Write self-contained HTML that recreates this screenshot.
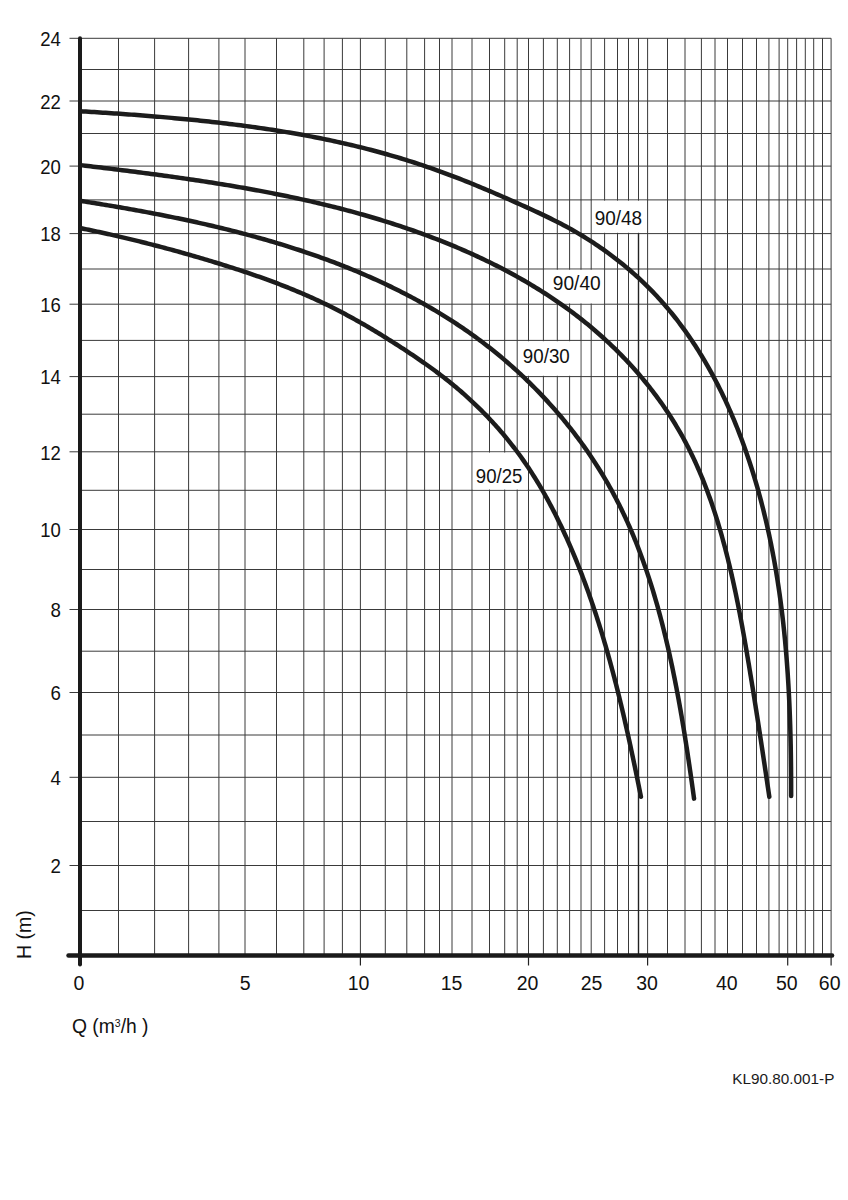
<!DOCTYPE html>
<html><head><meta charset="utf-8"><title>KL90.80.001-P</title><style>html,body{margin:0;padding:0;background:#fff;width:848px;height:1200px;overflow:hidden}svg{display:block}</style></head><body>
<svg width="848" height="1200" viewBox="0 0 848 1200">
<rect width="848" height="1200" fill="#fff"/>
<g stroke="#3a3a3a" stroke-width="1" fill="none"><line x1="118.5" y1="38.3" x2="118.5" y2="955.3"/><line x1="154.6" y1="38.3" x2="154.6" y2="955.3"/><line x1="188.6" y1="38.3" x2="188.6" y2="955.3"/><line x1="218.9" y1="38.3" x2="218.9" y2="955.3"/><line x1="245" y1="38.3" x2="245" y2="955.3"/><line x1="276.5" y1="38.3" x2="276.5" y2="955.3"/><line x1="303.8" y1="38.3" x2="303.8" y2="955.3"/><line x1="324.1" y1="38.3" x2="324.1" y2="955.3"/><line x1="342.4" y1="38.3" x2="342.4" y2="955.3"/><line x1="360.4" y1="38.3" x2="360.4" y2="955.3"/><line x1="385.3" y1="38.3" x2="385.3" y2="955.3"/><line x1="406.8" y1="38.3" x2="406.8" y2="955.3"/><line x1="424.6" y1="38.3" x2="424.6" y2="955.3"/><line x1="439.5" y1="38.3" x2="439.5" y2="955.3"/><line x1="452.0" y1="38.3" x2="452.0" y2="955.3"/><line x1="472.0" y1="38.3" x2="472.0" y2="955.3"/><line x1="489.5" y1="38.3" x2="489.5" y2="955.3"/><line x1="504.7" y1="38.3" x2="504.7" y2="955.3"/><line x1="517.2" y1="38.3" x2="517.2" y2="955.3"/><line x1="528.5" y1="38.3" x2="528.5" y2="955.3"/><line x1="543.4" y1="38.3" x2="543.4" y2="955.3"/><line x1="557.3" y1="38.3" x2="557.3" y2="955.3"/><line x1="569.6" y1="38.3" x2="569.6" y2="955.3"/><line x1="581.0" y1="38.3" x2="581.0" y2="955.3"/><line x1="591.2" y1="38.3" x2="591.2" y2="955.3"/><line x1="604.6" y1="38.3" x2="604.6" y2="955.3"/><line x1="617.5" y1="38.3" x2="617.5" y2="955.3"/><line x1="628.5" y1="38.3" x2="628.5" y2="955.3"/><line x1="638.5" y1="38.3" x2="638.5" y2="955.3"/><line x1="647.6" y1="38.3" x2="647.6" y2="955.3"/><line x1="667.5" y1="38.3" x2="667.5" y2="955.3"/><line x1="685.0" y1="38.3" x2="685.0" y2="955.3"/><line x1="701.4" y1="38.3" x2="701.4" y2="955.3"/><line x1="715.0" y1="38.3" x2="715.0" y2="955.3"/><line x1="727.5" y1="38.3" x2="727.5" y2="955.3"/><line x1="742.5" y1="38.3" x2="742.5" y2="955.3"/><line x1="756.5" y1="38.3" x2="756.5" y2="955.3"/><line x1="768.9" y1="38.3" x2="768.9" y2="955.3"/><line x1="779.1" y1="38.3" x2="779.1" y2="955.3"/><line x1="787.7" y1="38.3" x2="787.7" y2="955.3"/><line x1="796.6" y1="38.3" x2="796.6" y2="955.3"/><line x1="805.3" y1="38.3" x2="805.3" y2="955.3"/><line x1="813.7" y1="38.3" x2="813.7" y2="955.3"/><line x1="822.5" y1="38.3" x2="822.5" y2="955.3"/><line x1="831.1" y1="38.3" x2="831.1" y2="955.3"/><line x1="69.5" y1="38.3" x2="831.1" y2="38.3"/><line x1="80.0" y1="69.5" x2="831.1" y2="69.5"/><line x1="69.5" y1="101.0" x2="831.1" y2="101.0"/><line x1="80.0" y1="133.5" x2="831.1" y2="133.5"/><line x1="69.5" y1="166.1" x2="831.1" y2="166.1"/><line x1="80.0" y1="199.9" x2="831.1" y2="199.9"/><line x1="69.5" y1="233.6" x2="831.1" y2="233.6"/><line x1="80.0" y1="269.0" x2="831.1" y2="269.0"/><line x1="69.5" y1="304.2" x2="831.1" y2="304.2"/><line x1="80.0" y1="340.4" x2="831.1" y2="340.4"/><line x1="69.5" y1="376.6" x2="831.1" y2="376.6"/><line x1="80.0" y1="414.2" x2="831.1" y2="414.2"/><line x1="69.5" y1="451.8" x2="831.1" y2="451.8"/><line x1="80.0" y1="490.3" x2="831.1" y2="490.3"/><line x1="69.5" y1="529.5" x2="831.1" y2="529.5"/><line x1="80.0" y1="569.5" x2="831.1" y2="569.5"/><line x1="69.5" y1="609.5" x2="831.1" y2="609.5"/><line x1="80.0" y1="651.2" x2="831.1" y2="651.2"/><line x1="69.5" y1="692.5" x2="831.1" y2="692.5"/><line x1="80.0" y1="735.0" x2="831.1" y2="735.0"/><line x1="69.5" y1="777.3" x2="831.1" y2="777.3"/><line x1="80.0" y1="821.5" x2="831.1" y2="821.5"/><line x1="69.5" y1="865.5" x2="831.1" y2="865.5"/><line x1="80.0" y1="910.5" x2="831.1" y2="910.5"/></g>
<rect x="592.0" y="200.7" width="54.8" height="32.1" fill="#fff"/>
<rect x="544.2" y="269.8" width="59.6" height="33.6" fill="#fff"/>
<rect x="518.0" y="341.2" width="62.2" height="34.6" fill="#fff"/>
<rect x="472.8" y="452.6" width="54.9" height="36.9" fill="#fff"/>
<line x1="638.5" y1="233.6" x2="638.5" y2="955.3" stroke="#222" stroke-width="1.4"/>
<g stroke="#1a1a1a" fill="none" stroke-linecap="round"><line x1="80.0" y1="38.3" x2="80.0" y2="964.5" stroke-width="4"/><line x1="68.5" y1="955.5" x2="832.1" y2="955.5" stroke-width="4.4"/></g>
<g stroke="#222" stroke-width="1.2"><line x1="360.4" y1="955.3" x2="360.4" y2="965.5"/><line x1="528.5" y1="955.3" x2="528.5" y2="965.5"/><line x1="647.6" y1="955.3" x2="647.6" y2="965.5"/><line x1="787.7" y1="955.3" x2="787.7" y2="965.5"/><line x1="831.1" y1="955.3" x2="831.1" y2="965.5"/></g>
<defs><clipPath id="cp"><rect x="80" y="0" width="800" height="1200"/></clipPath></defs>
<g clip-path="url(#cp)" stroke="#1c1c1c" stroke-width="4.5" fill="none" stroke-linecap="round" stroke-linejoin="round">
<path d="M80.20,111.23 L83.02,111.40 L85.84,111.58 L88.67,111.75 L91.49,111.93 L94.32,112.11 L97.16,112.29 L99.99,112.47 L102.83,112.66 L105.67,112.84 L108.52,113.03 L111.37,113.22 L114.21,113.42 L117.07,113.61 L119.92,113.81 L122.77,114.01 L125.63,114.21 L128.49,114.42 L131.35,114.63 L134.22,114.84 L137.08,115.05 L139.95,115.27 L142.82,115.49 L145.69,115.71 L148.56,115.94 L151.43,116.17 L154.30,116.40 L157.18,116.64 L160.05,116.88 L162.93,117.13 L165.81,117.37 L168.69,117.62 L171.57,117.88 L174.45,118.14 L177.33,118.40 L180.21,118.67 L183.09,118.94 L185.97,119.22 L188.86,119.50 L191.74,119.78 L194.62,120.07 L197.51,120.36 L200.39,120.66 L203.27,120.96 L206.15,121.27 L209.04,121.58 L211.92,121.90 L214.80,122.22 L217.68,122.55 L220.56,122.88 L223.44,123.22 L226.32,123.56 L229.20,123.91 L232.08,124.26 L234.95,124.62 L237.83,124.98 L240.70,125.35 L243.58,125.73 L246.45,126.11 L249.32,126.50 L252.19,126.89 L255.06,127.29 L257.92,127.70 L260.79,128.11 L263.65,128.52 L266.51,128.95 L269.37,129.38 L272.22,129.82 L275.08,130.26 L277.93,130.71 L280.78,131.17 L283.63,131.63 L286.48,132.10 L289.32,132.58 L292.16,133.07 L295.00,133.56 L297.83,134.06 L300.67,134.56 L303.50,135.08 L306.32,135.60 L309.15,136.13 L311.97,136.66 L314.78,137.21 L317.60,137.76 L320.41,138.32 L323.22,138.89 L326.02,139.46 L328.82,140.04 L331.62,140.63 L334.41,141.23 L337.20,141.84 L339.99,142.46 L342.77,143.08 L345.55,143.71 L348.33,144.36 L351.10,145.01 L353.87,145.67 L356.64,146.33 L359.40,147.01 L362.16,147.69 L364.92,148.39 L367.67,149.09 L370.43,149.80 L373.18,150.53 L375.92,151.26 L378.66,152.00 L381.40,152.75 L384.14,153.51 L386.88,154.28 L389.61,155.06 L392.34,155.84 L395.06,156.64 L397.79,157.45 L400.51,158.27 L403.23,159.10 L405.94,159.94 L408.66,160.79 L411.37,161.65 L414.08,162.51 L416.79,163.39 L419.49,164.29 L422.20,165.19 L424.90,166.10 L427.60,167.02 L430.30,167.95 L433.00,168.90 L435.71,169.85 L438.41,170.82 L441.11,171.80 L443.81,172.79 L446.51,173.79 L449.22,174.80 L451.92,175.82 L454.63,176.86 L457.34,177.90 L460.04,178.96 L462.75,180.02 L465.46,181.10 L468.17,182.18 L470.88,183.28 L473.59,184.38 L476.29,185.49 L479.00,186.61 L481.71,187.73 L484.41,188.87 L487.11,190.01 L489.81,191.15 L492.51,192.30 L495.21,193.46 L497.90,194.62 L500.59,195.78 L503.27,196.95 L505.96,198.12 L508.64,199.30 L511.31,200.47 L513.98,201.65 L516.65,202.83 L519.31,204.02 L521.96,205.20 L524.61,206.39 L527.26,207.58 L529.90,208.78 L532.53,209.98 L535.16,211.18 L537.78,212.40 L540.39,213.62 L543.00,214.85 L545.60,216.10 L548.19,217.35 L550.78,218.61 L553.35,219.89 L555.92,221.18 L558.48,222.49 L561.03,223.81 L563.57,225.15 L566.10,226.51 L568.62,227.88 L571.13,229.28 L573.63,230.69 L576.13,232.12 L578.61,233.58 L581.08,235.05 L583.53,236.54 L585.98,238.05 L588.42,239.58 L590.84,241.13 L593.25,242.70 L595.65,244.29 L598.04,245.90 L600.41,247.52 L602.77,249.17 L605.12,250.83 L607.45,252.51 L609.77,254.21 L612.07,255.93 L614.36,257.67 L616.64,259.42 L618.90,261.19 L621.15,262.98 L623.38,264.79 L625.59,266.62 L627.79,268.46 L629.97,270.32 L632.14,272.20 L634.28,274.10 L636.42,276.01 L638.53,277.95 L640.63,279.89 L642.71,281.86 L644.77,283.84 L646.81,285.84 L648.83,287.86 L650.84,289.89 L652.83,291.94 L654.79,294.00 L656.74,296.08 L658.68,298.18 L660.59,300.29 L662.49,302.42 L664.36,304.56 L666.22,306.72 L668.06,308.90 L669.89,311.09 L671.69,313.29 L673.48,315.51 L675.25,317.74 L677.00,319.99 L678.74,322.25 L680.46,324.52 L682.16,326.81 L683.84,329.11 L685.51,331.43 L687.16,333.76 L688.79,336.10 L690.41,338.45 L692.01,340.82 L693.59,343.19 L695.15,345.59 L696.70,347.99 L698.24,350.40 L699.75,352.83 L701.26,355.27 L702.74,357.72 L704.21,360.18 L705.66,362.65 L707.10,365.13 L708.52,367.62 L709.92,370.13 L711.31,372.64 L712.69,375.16 L714.04,377.70 L715.39,380.24 L716.72,382.79 L718.03,385.36 L719.33,387.93 L720.61,390.51 L721.88,393.10 L723.13,395.69 L724.37,398.30 L725.59,400.92 L726.80,403.54 L727.99,406.17 L729.17,408.81 L730.34,411.46 L731.49,414.11 L732.62,416.77 L733.75,419.44 L734.85,422.11 L735.95,424.80 L737.03,427.48 L738.10,430.18 L739.15,432.88 L740.19,435.59 L741.21,438.30 L742.23,441.02 L743.23,443.74 L744.21,446.47 L745.18,449.21 L746.14,451.94 L747.09,454.69 L748.02,457.44 L748.95,460.19 L749.85,462.95 L750.75,465.71 L751.63,468.48 L752.50,471.24 L753.36,474.02 L754.21,476.79 L755.04,479.57 L755.86,482.36 L756.67,485.14 L757.47,487.93 L758.25,490.72 L759.02,493.51 L759.79,496.31 L760.54,499.10 L761.27,501.90 L762.00,504.70 L762.72,507.50 L763.42,510.31 L764.11,513.11 L764.80,515.92 L765.47,518.72 L766.13,521.53 L766.77,524.34 L767.41,527.15 L768.04,529.96 L768.66,532.77 L769.26,535.58 L769.86,538.39 L770.44,541.21 L771.02,544.02 L771.58,546.84 L772.14,549.66 L772.68,552.48 L773.21,555.30 L773.74,558.12 L774.25,560.94 L774.76,563.76 L775.25,566.59 L775.74,569.41 L776.22,572.24 L776.68,575.07 L777.14,577.90 L777.59,580.73 L778.03,583.56 L778.46,586.39 L778.88,589.22 L779.29,592.05 L779.70,594.89 L780.09,597.73 L780.48,600.56 L780.85,603.40 L781.22,606.24 L781.58,609.08 L781.94,611.92 L782.28,614.76 L782.62,617.61 L782.95,620.45 L783.27,623.30 L783.58,626.14 L783.88,628.99 L784.18,631.84 L784.47,634.69 L784.75,637.54 L785.03,640.39 L785.29,643.24 L785.55,646.10 L785.80,648.95 L786.05,651.81 L786.29,654.67 L786.52,657.52 L786.74,660.38 L786.96,663.24 L787.17,666.11 L787.38,668.97 L787.58,671.83 L787.77,674.70 L787.95,677.56 L788.13,680.43 L788.31,683.30 L788.47,686.16 L788.63,689.03 L788.79,691.90 L788.94,694.78 L789.08,697.65 L789.22,700.52 L789.35,703.40 L789.48,706.27 L789.60,709.15 L789.71,712.03 L789.82,714.91 L789.93,717.79 L790.03,720.67 L790.13,723.55 L790.22,726.44 L790.30,729.32 L790.38,732.21 L790.46,735.09 L790.53,737.98 L790.60,740.87 L790.66,743.76 L790.72,746.65 L790.77,749.54 L790.82,752.44 L790.87,755.33 L790.91,758.22 L790.95,761.12 L790.98,764.02 L791.02,766.92 L791.04,769.82 L791.07,772.72 L791.09,775.62 L791.10,778.52 L791.12,781.42 L791.13,784.33 L791.13,787.23 L791.14,790.14 L791.14,793.05 L791.14,795.96"/>
<path d="M80.05,165.07 L82.67,165.38 L85.29,165.70 L87.92,166.01 L90.54,166.33 L93.17,166.65 L95.79,166.96 L98.42,167.28 L101.05,167.60 L103.68,167.92 L106.31,168.24 L108.93,168.56 L111.56,168.88 L114.19,169.21 L116.83,169.53 L119.46,169.86 L122.09,170.19 L124.72,170.52 L127.35,170.85 L129.99,171.18 L132.62,171.51 L135.25,171.85 L137.88,172.19 L140.52,172.53 L143.15,172.87 L145.79,173.21 L148.42,173.56 L151.05,173.90 L153.69,174.25 L156.32,174.60 L158.96,174.96 L161.59,175.31 L164.23,175.67 L166.86,176.03 L169.50,176.39 L172.13,176.76 L174.76,177.13 L177.40,177.50 L180.03,177.87 L182.67,178.25 L185.30,178.63 L187.93,179.01 L190.57,179.40 L193.20,179.78 L195.83,180.18 L198.46,180.57 L201.09,180.97 L203.72,181.37 L206.36,181.77 L208.99,182.18 L211.62,182.59 L214.24,183.01 L216.87,183.43 L219.50,183.85 L222.13,184.27 L224.76,184.70 L227.38,185.14 L230.01,185.57 L232.63,186.02 L235.26,186.46 L237.88,186.91 L240.50,187.36 L243.12,187.82 L245.74,188.28 L248.36,188.75 L250.98,189.22 L253.60,189.70 L256.22,190.18 L258.83,190.66 L261.45,191.15 L264.06,191.64 L266.68,192.14 L269.29,192.65 L271.90,193.16 L274.51,193.67 L277.12,194.19 L279.73,194.71 L282.33,195.24 L284.94,195.77 L287.54,196.31 L290.14,196.86 L292.75,197.41 L295.35,197.96 L297.94,198.52 L300.54,199.09 L303.14,199.66 L305.73,200.24 L308.32,200.82 L310.92,201.41 L313.51,202.01 L316.09,202.61 L318.68,203.22 L321.27,203.83 L323.85,204.45 L326.43,205.08 L329.01,205.71 L331.59,206.35 L334.17,206.99 L336.74,207.64 L339.31,208.30 L341.89,208.97 L344.45,209.64 L347.02,210.32 L349.59,211.00 L352.15,211.69 L354.71,212.39 L357.27,213.10 L359.83,213.81 L362.39,214.53 L364.94,215.25 L367.49,215.99 L370.04,216.73 L372.59,217.48 L375.13,218.23 L377.68,219.00 L380.22,219.77 L382.76,220.55 L385.29,221.33 L387.83,222.13 L390.36,222.93 L392.89,223.74 L395.42,224.55 L397.94,225.38 L400.46,226.21 L402.98,227.05 L405.50,227.90 L408.01,228.76 L410.53,229.63 L413.04,230.50 L415.54,231.38 L418.05,232.28 L420.55,233.18 L423.05,234.08 L425.55,235.00 L428.04,235.93 L430.53,236.86 L433.02,237.80 L435.50,238.76 L437.98,239.72 L440.46,240.69 L442.94,241.67 L445.41,242.65 L447.88,243.65 L450.34,244.66 L452.80,245.67 L455.26,246.70 L457.71,247.73 L460.16,248.78 L462.61,249.83 L465.05,250.90 L467.48,251.97 L469.91,253.05 L472.34,254.15 L474.76,255.25 L477.18,256.36 L479.59,257.48 L482.00,258.62 L484.41,259.76 L486.80,260.91 L489.19,262.08 L491.58,263.25 L493.96,264.43 L496.34,265.63 L498.71,266.83 L501.07,268.05 L503.43,269.27 L505.78,270.51 L508.13,271.76 L510.47,273.02 L512.80,274.29 L515.13,275.57 L517.45,276.86 L519.77,278.16 L522.07,279.47 L524.37,280.80 L526.67,282.14 L528.96,283.48 L531.24,284.84 L533.51,286.21 L535.77,287.59 L538.03,288.99 L540.28,290.39 L542.52,291.81 L544.76,293.24 L546.99,294.68 L549.20,296.13 L551.42,297.59 L553.62,299.07 L555.81,300.56 L558.00,302.06 L560.18,303.57 L562.35,305.09 L564.51,306.63 L566.66,308.18 L568.80,309.74 L570.94,311.31 L573.06,312.90 L575.18,314.50 L577.28,316.11 L579.38,317.74 L581.47,319.37 L583.55,321.03 L585.62,322.69 L587.68,324.36 L589.73,326.05 L591.76,327.76 L593.79,329.47 L595.81,331.20 L597.82,332.94 L599.82,334.70 L601.81,336.47 L603.78,338.25 L605.75,340.05 L607.71,341.86 L609.65,343.68 L611.58,345.52 L613.51,347.37 L615.42,349.23 L617.32,351.10 L619.20,352.99 L621.08,354.89 L622.94,356.81 L624.79,358.73 L626.63,360.67 L628.46,362.62 L630.27,364.58 L632.07,366.56 L633.86,368.55 L635.63,370.55 L637.39,372.56 L639.14,374.58 L640.87,376.61 L642.59,378.66 L644.29,380.71 L645.98,382.78 L647.66,384.86 L649.32,386.95 L650.96,389.05 L652.60,391.16 L654.21,393.28 L655.81,395.41 L657.40,397.55 L658.97,399.71 L660.52,401.87 L662.06,404.04 L663.58,406.22 L665.09,408.42 L666.58,410.62 L668.05,412.83 L669.50,415.05 L670.94,417.28 L672.36,419.52 L673.77,421.77 L675.16,424.03 L676.52,426.29 L677.88,428.57 L679.21,430.85 L680.53,433.15 L681.82,435.45 L683.10,437.76 L684.36,440.07 L685.60,442.40 L686.83,444.73 L688.04,447.08 L689.23,449.43 L690.40,451.78 L691.56,454.15 L692.70,456.52 L693.82,458.90 L694.93,461.29 L696.02,463.68 L697.10,466.08 L698.16,468.49 L699.21,470.90 L700.24,473.33 L701.25,475.75 L702.26,478.19 L703.24,480.63 L704.21,483.08 L705.17,485.53 L706.12,487.99 L707.05,490.45 L707.97,492.92 L708.87,495.40 L709.76,497.88 L710.64,500.37 L711.51,502.86 L712.36,505.36 L713.20,507.86 L714.04,510.37 L714.85,512.88 L715.66,515.40 L716.46,517.92 L717.24,520.45 L718.02,522.98 L718.78,525.52 L719.53,528.06 L720.27,530.60 L721.01,533.15 L721.73,535.70 L722.44,538.26 L723.15,540.81 L723.84,543.38 L724.53,545.94 L725.21,548.51 L725.88,551.09 L726.54,553.66 L727.19,556.24 L727.84,558.82 L728.47,561.41 L729.10,563.99 L729.72,566.58 L730.34,569.18 L730.94,571.77 L731.54,574.37 L732.13,576.97 L732.72,579.57 L733.30,582.18 L733.87,584.79 L734.44,587.40 L735.00,590.01 L735.55,592.62 L736.10,595.24 L736.64,597.86 L737.17,600.48 L737.70,603.10 L738.23,605.72 L738.75,608.34 L739.26,610.97 L739.77,613.60 L740.27,616.23 L740.77,618.86 L741.27,621.49 L741.76,624.12 L742.25,626.76 L742.73,629.39 L743.21,632.03 L743.68,634.66 L744.15,637.30 L744.62,639.94 L745.08,642.58 L745.54,645.22 L746.00,647.86 L746.45,650.50 L746.91,653.14 L747.35,655.78 L747.80,658.42 L748.24,661.06 L748.69,663.71 L749.13,666.35 L749.56,668.99 L750.00,671.63 L750.43,674.27 L750.87,676.91 L751.30,679.55 L751.73,682.19 L752.15,684.83 L752.58,687.47 L753.01,690.11 L753.43,692.75 L753.85,695.39 L754.27,698.02 L754.69,700.66 L755.11,703.29 L755.52,705.92 L755.94,708.56 L756.35,711.19 L756.76,713.82 L757.17,716.44 L757.58,719.07 L757.99,721.70 L758.40,724.32 L758.80,726.94 L759.21,729.56 L759.61,732.18 L760.01,734.80 L760.41,737.41 L760.81,740.02 L761.21,742.64 L761.61,745.24 L762.00,747.85 L762.40,750.45 L762.79,753.05 L763.18,755.65 L763.57,758.25 L763.96,760.84 L764.35,763.44 L764.74,766.02 L765.13,768.61 L765.51,771.19 L765.90,773.77 L766.28,776.35 L766.66,778.92 L767.05,781.49 L767.43,784.06 L767.81,786.62 L768.19,789.18 L768.57,791.74 L768.94,794.30 L769.32,796.85"/>
<path d="M80.62,200.91 L82.91,201.27 L85.20,201.63 L87.49,201.99 L89.79,202.36 L92.08,202.72 L94.38,203.09 L96.68,203.47 L98.99,203.84 L101.29,204.22 L103.60,204.60 L105.90,204.98 L108.21,205.36 L110.52,205.75 L112.83,206.14 L115.15,206.53 L117.46,206.93 L119.78,207.33 L122.09,207.73 L124.41,208.13 L126.73,208.54 L129.05,208.95 L131.37,209.36 L133.69,209.78 L136.02,210.20 L138.34,210.62 L140.67,211.04 L142.99,211.47 L145.32,211.91 L147.65,212.34 L149.97,212.78 L152.30,213.22 L154.63,213.67 L156.96,214.12 L159.29,214.57 L161.62,215.02 L163.95,215.48 L166.29,215.95 L168.62,216.42 L170.95,216.89 L173.28,217.36 L175.62,217.84 L177.95,218.32 L180.28,218.81 L182.61,219.30 L184.95,219.79 L187.28,220.29 L189.61,220.79 L191.94,221.30 L194.28,221.81 L196.61,222.32 L198.94,222.84 L201.27,223.37 L203.60,223.89 L205.93,224.43 L208.26,224.96 L210.59,225.50 L212.92,226.05 L215.25,226.60 L217.58,227.15 L219.91,227.71 L222.23,228.28 L224.56,228.84 L226.88,229.42 L229.21,230.00 L231.53,230.58 L233.85,231.17 L236.17,231.76 L238.49,232.36 L240.81,232.96 L243.13,233.57 L245.44,234.18 L247.76,234.80 L250.07,235.42 L252.38,236.05 L254.70,236.68 L257.01,237.32 L259.31,237.96 L261.62,238.61 L263.92,239.27 L266.23,239.93 L268.53,240.59 L270.83,241.26 L273.13,241.94 L275.42,242.62 L277.72,243.31 L280.01,244.00 L282.30,244.70 L284.59,245.41 L286.88,246.12 L289.16,246.84 L291.44,247.56 L293.72,248.29 L296.00,249.02 L298.27,249.76 L300.55,250.51 L302.82,251.26 L305.09,252.02 L307.35,252.79 L309.62,253.56 L311.88,254.34 L314.13,255.12 L316.39,255.91 L318.64,256.71 L320.89,257.51 L323.14,258.32 L325.38,259.14 L327.63,259.96 L329.86,260.79 L332.10,261.63 L334.33,262.47 L336.56,263.32 L338.79,264.18 L341.01,265.04 L343.23,265.91 L345.45,266.79 L347.66,267.67 L349.87,268.56 L352.08,269.46 L354.28,270.37 L356.48,271.28 L358.68,272.20 L360.87,273.12 L363.06,274.06 L365.25,275.00 L367.43,275.95 L369.60,276.90 L371.78,277.87 L373.95,278.84 L376.12,279.82 L378.28,280.80 L380.44,281.80 L382.59,282.80 L384.74,283.80 L386.89,284.82 L389.03,285.85 L391.17,286.88 L393.30,287.92 L395.43,288.96 L397.55,290.02 L399.67,291.08 L401.79,292.15 L403.90,293.23 L406.01,294.32 L408.11,295.42 L410.21,296.52 L412.30,297.63 L414.39,298.75 L416.47,299.88 L418.55,301.02 L420.62,302.16 L422.69,303.32 L424.75,304.48 L426.81,305.65 L428.86,306.83 L430.91,308.02 L432.96,309.21 L434.99,310.42 L437.03,311.63 L439.05,312.85 L441.08,314.08 L443.09,315.32 L445.10,316.57 L447.11,317.83 L449.11,319.10 L451.10,320.37 L453.09,321.66 L455.08,322.95 L457.05,324.25 L459.03,325.57 L460.99,326.89 L462.95,328.22 L464.91,329.56 L466.86,330.91 L468.80,332.27 L470.73,333.63 L472.66,335.01 L474.59,336.40 L476.51,337.79 L478.42,339.20 L480.32,340.62 L482.22,342.04 L484.11,343.48 L486.00,344.92 L487.88,346.38 L489.75,347.84 L491.62,349.31 L493.48,350.80 L495.33,352.29 L497.18,353.80 L499.02,355.31 L500.85,356.83 L502.68,358.36 L504.50,359.91 L506.31,361.46 L508.11,363.02 L509.91,364.59 L511.70,366.17 L513.48,367.75 L515.26,369.35 L517.03,370.96 L518.79,372.57 L520.54,374.20 L522.29,375.83 L524.02,377.47 L525.75,379.12 L527.47,380.78 L529.19,382.45 L530.89,384.13 L532.59,385.82 L534.28,387.51 L535.96,389.21 L537.63,390.92 L539.30,392.64 L540.95,394.37 L542.60,396.11 L544.24,397.85 L545.87,399.61 L547.49,401.37 L549.10,403.14 L550.71,404.91 L552.30,406.70 L553.89,408.49 L555.46,410.29 L557.03,412.10 L558.59,413.91 L560.14,415.74 L561.68,417.57 L563.21,419.41 L564.73,421.25 L566.24,423.11 L567.74,424.97 L569.24,426.84 L570.72,428.71 L572.19,430.60 L573.65,432.49 L575.11,434.39 L576.55,436.29 L577.98,438.20 L579.41,440.12 L580.82,442.04 L582.22,443.98 L583.61,445.92 L585.00,447.86 L586.37,449.81 L587.73,451.77 L589.08,453.74 L590.42,455.71 L591.75,457.69 L593.06,459.67 L594.37,461.67 L595.67,463.66 L596.95,465.67 L598.23,467.68 L599.49,469.69 L600.74,471.72 L601.98,473.74 L603.21,475.78 L604.43,477.82 L605.63,479.87 L606.83,481.92 L608.01,483.97 L609.18,486.04 L610.34,488.11 L611.49,490.18 L612.63,492.26 L613.75,494.35 L614.86,496.44 L615.97,498.53 L617.06,500.64 L618.13,502.74 L619.20,504.86 L620.26,506.97 L621.30,509.10 L622.33,511.22 L623.35,513.36 L624.37,515.49 L625.37,517.64 L626.36,519.78 L627.34,521.93 L628.31,524.09 L629.26,526.25 L630.21,528.42 L631.15,530.59 L632.08,532.76 L632.99,534.94 L633.90,537.13 L634.80,539.31 L635.69,541.51 L636.57,543.70 L637.44,545.90 L638.30,548.11 L639.15,550.32 L639.99,552.53 L640.82,554.75 L641.64,556.97 L642.45,559.19 L643.26,561.42 L644.05,563.65 L644.84,565.89 L645.62,568.13 L646.39,570.37 L647.15,572.62 L647.90,574.87 L648.65,577.12 L649.39,579.38 L650.11,581.64 L650.83,583.90 L651.55,586.17 L652.25,588.44 L652.95,590.71 L653.64,592.98 L654.32,595.26 L655.00,597.54 L655.66,599.83 L656.32,602.12 L656.98,604.41 L657.62,606.70 L658.26,608.99 L658.89,611.29 L659.52,613.59 L660.14,615.89 L660.75,618.20 L661.35,620.51 L661.95,622.82 L662.54,625.13 L663.13,627.44 L663.71,629.76 L664.29,632.08 L664.85,634.40 L665.42,636.72 L665.97,639.04 L666.52,641.37 L667.07,643.70 L667.61,646.03 L668.14,648.36 L668.67,650.69 L669.20,653.03 L669.72,655.36 L670.23,657.70 L670.74,660.04 L671.24,662.38 L671.74,664.72 L672.24,667.07 L672.73,669.41 L673.21,671.76 L673.69,674.10 L674.17,676.45 L674.64,678.80 L675.11,681.15 L675.57,683.50 L676.03,685.85 L676.48,688.20 L676.93,690.56 L677.37,692.91 L677.81,695.26 L678.25,697.62 L678.68,699.97 L679.11,702.33 L679.54,704.69 L679.96,707.04 L680.38,709.40 L680.79,711.76 L681.20,714.11 L681.61,716.47 L682.01,718.83 L682.41,721.18 L682.81,723.54 L683.20,725.90 L683.59,728.25 L683.98,730.61 L684.36,732.97 L684.74,735.32 L685.12,737.68 L685.49,740.03 L685.86,742.39 L686.23,744.74 L686.60,747.10 L686.96,749.45 L687.32,751.80 L687.68,754.15 L688.03,756.50 L688.38,758.85 L688.73,761.20 L689.08,763.55 L689.43,765.90 L689.77,768.24 L690.11,770.59 L690.45,772.93 L690.79,775.27 L691.12,777.61 L691.45,779.95 L691.78,782.29 L692.11,784.63 L692.44,786.96 L692.77,789.30 L693.09,791.63 L693.41,793.96 L693.73,796.29 L694.05,798.61"/>
<path d="M80.23,228.07 L82.34,228.50 L84.45,228.94 L86.56,229.37 L88.67,229.81 L90.78,230.25 L92.90,230.70 L95.01,231.15 L97.12,231.61 L99.24,232.06 L101.35,232.53 L103.47,232.99 L105.59,233.46 L107.70,233.93 L109.82,234.41 L111.94,234.89 L114.05,235.37 L116.17,235.86 L118.29,236.35 L120.41,236.84 L122.52,237.34 L124.64,237.84 L126.76,238.34 L128.88,238.85 L131.00,239.36 L133.12,239.87 L135.24,240.39 L137.35,240.91 L139.47,241.44 L141.59,241.96 L143.71,242.49 L145.83,243.03 L147.95,243.57 L150.06,244.11 L152.18,244.65 L154.30,245.20 L156.41,245.75 L158.53,246.30 L160.65,246.86 L162.76,247.42 L164.88,247.99 L166.99,248.56 L169.10,249.13 L171.22,249.70 L173.33,250.28 L175.44,250.86 L177.55,251.44 L179.66,252.03 L181.77,252.62 L183.88,253.21 L185.99,253.81 L188.10,254.41 L190.20,255.01 L192.31,255.61 L194.41,256.22 L196.52,256.84 L198.62,257.45 L200.72,258.07 L202.82,258.69 L204.92,259.31 L207.02,259.94 L209.11,260.57 L211.21,261.21 L213.30,261.84 L215.40,262.48 L217.49,263.12 L219.58,263.77 L221.67,264.42 L223.75,265.07 L225.84,265.73 L227.93,266.38 L230.01,267.05 L232.09,267.71 L234.17,268.38 L236.25,269.05 L238.32,269.73 L240.40,270.41 L242.47,271.09 L244.54,271.78 L246.61,272.48 L248.68,273.18 L250.75,273.88 L252.81,274.59 L254.87,275.30 L256.93,276.02 L258.99,276.74 L261.05,277.46 L263.10,278.20 L265.16,278.94 L267.21,279.68 L269.25,280.43 L271.30,281.18 L273.34,281.94 L275.38,282.71 L277.42,283.48 L279.46,284.26 L281.49,285.05 L283.52,285.84 L285.55,286.64 L287.58,287.44 L289.60,288.25 L291.63,289.07 L293.65,289.90 L295.66,290.73 L297.68,291.57 L299.69,292.42 L301.70,293.27 L303.70,294.13 L305.71,295.00 L307.71,295.88 L309.70,296.76 L311.70,297.66 L313.69,298.56 L315.68,299.47 L317.67,300.39 L319.65,301.31 L321.63,302.25 L323.61,303.19 L325.58,304.14 L327.55,305.10 L329.52,306.07 L331.48,307.05 L333.44,308.03 L335.40,309.03 L337.36,310.03 L339.31,311.04 L341.26,312.06 L343.20,313.08 L345.14,314.11 L347.08,315.15 L349.01,316.20 L350.94,317.25 L352.87,318.31 L354.80,319.38 L356.72,320.46 L358.63,321.54 L360.54,322.62 L362.45,323.71 L364.36,324.81 L366.26,325.92 L368.16,327.03 L370.05,328.14 L371.94,329.26 L373.83,330.39 L375.71,331.52 L377.59,332.65 L379.46,333.79 L381.33,334.94 L383.20,336.09 L385.06,337.24 L386.91,338.40 L388.77,339.56 L390.62,340.73 L392.46,341.90 L394.30,343.07 L396.14,344.25 L397.97,345.43 L399.80,346.61 L401.62,347.80 L403.44,348.99 L405.25,350.18 L407.06,351.38 L408.87,352.57 L410.67,353.78 L412.46,354.98 L414.26,356.19 L416.04,357.40 L417.82,358.61 L419.60,359.83 L421.37,361.05 L423.14,362.28 L424.90,363.52 L426.66,364.76 L428.41,366.01 L430.16,367.26 L431.90,368.52 L433.64,369.79 L435.37,371.06 L437.10,372.34 L438.82,373.63 L440.54,374.93 L442.25,376.24 L443.96,377.56 L445.66,378.88 L447.36,380.22 L449.05,381.57 L450.74,382.92 L452.42,384.29 L454.09,385.67 L455.76,387.06 L457.42,388.46 L459.08,389.87 L460.73,391.29 L462.38,392.73 L464.02,394.17 L465.65,395.62 L467.27,397.08 L468.89,398.56 L470.50,400.04 L472.11,401.53 L473.71,403.04 L475.30,404.55 L476.88,406.07 L478.45,407.60 L480.02,409.15 L481.58,410.70 L483.13,412.26 L484.67,413.83 L486.21,415.40 L487.73,416.99 L489.25,418.59 L490.76,420.19 L492.26,421.81 L493.75,423.43 L495.23,425.06 L496.70,426.70 L498.16,428.35 L499.61,430.00 L501.05,431.67 L502.49,433.34 L503.91,435.02 L505.32,436.71 L506.72,438.41 L508.11,440.11 L509.49,441.82 L510.86,443.54 L512.21,445.27 L513.56,447.00 L514.90,448.75 L516.22,450.49 L517.53,452.25 L518.83,454.01 L520.12,455.78 L521.39,457.56 L522.66,459.34 L523.91,461.13 L525.16,462.93 L526.39,464.73 L527.61,466.54 L528.82,468.36 L530.02,470.18 L531.21,472.01 L532.39,473.85 L533.55,475.69 L534.71,477.53 L535.86,479.38 L537.00,481.24 L538.13,483.11 L539.24,484.97 L540.35,486.85 L541.45,488.73 L542.54,490.61 L543.62,492.50 L544.70,494.40 L545.76,496.30 L546.81,498.20 L547.86,500.11 L548.89,502.02 L549.92,503.94 L550.94,505.87 L551.95,507.79 L552.95,509.73 L553.95,511.66 L554.94,513.60 L555.92,515.55 L556.89,517.49 L557.85,519.45 L558.81,521.40 L559.76,523.36 L560.70,525.33 L561.64,527.29 L562.57,529.26 L563.49,531.24 L564.40,533.21 L565.31,535.19 L566.21,537.17 L567.11,539.16 L567.99,541.15 L568.88,543.14 L569.75,545.14 L570.62,547.14 L571.48,549.14 L572.34,551.14 L573.19,553.15 L574.03,555.16 L574.87,557.17 L575.70,559.19 L576.52,561.21 L577.34,563.23 L578.15,565.26 L578.96,567.28 L579.76,569.31 L580.56,571.35 L581.35,573.38 L582.13,575.42 L582.91,577.46 L583.68,579.50 L584.44,581.55 L585.20,583.59 L585.96,585.64 L586.71,587.70 L587.45,589.75 L588.19,591.81 L588.92,593.87 L589.65,595.93 L590.37,597.99 L591.09,600.06 L591.80,602.12 L592.51,604.19 L593.21,606.27 L593.90,608.34 L594.60,610.42 L595.28,612.49 L595.96,614.57 L596.64,616.66 L597.31,618.74 L597.98,620.82 L598.64,622.91 L599.30,625.00 L599.95,627.09 L600.60,629.18 L601.24,631.28 L601.88,633.37 L602.51,635.47 L603.14,637.57 L603.77,639.67 L604.39,641.77 L605.00,643.87 L605.62,645.98 L606.22,648.08 L606.83,650.19 L607.43,652.30 L608.02,654.41 L608.62,656.52 L609.20,658.63 L609.79,660.74 L610.37,662.86 L610.94,664.97 L611.51,667.09 L612.08,669.21 L612.65,671.33 L613.21,673.45 L613.76,675.57 L614.32,677.69 L614.87,679.81 L615.41,681.93 L615.96,684.06 L616.50,686.18 L617.03,688.31 L617.57,690.43 L618.09,692.56 L618.62,694.69 L619.14,696.81 L619.66,698.94 L620.18,701.07 L620.69,703.20 L621.21,705.33 L621.71,707.46 L622.22,709.59 L622.72,711.72 L623.22,713.85 L623.72,715.98 L624.21,718.12 L624.70,720.25 L625.19,722.38 L625.67,724.51 L626.16,726.64 L626.64,728.78 L627.12,730.91 L627.59,733.04 L628.06,735.17 L628.54,737.31 L629.00,739.44 L629.47,741.57 L629.93,743.70 L630.40,745.83 L630.86,747.96 L631.31,750.10 L631.77,752.23 L632.22,754.36 L632.68,756.49 L633.13,758.62 L633.57,760.75 L634.02,762.87 L634.47,765.00 L634.91,767.13 L635.35,769.26 L635.79,771.38 L636.23,773.51 L636.66,775.64 L637.10,777.76 L637.53,779.88 L637.97,782.01 L638.40,784.13 L638.83,786.25 L639.25,788.37 L639.68,790.49 L640.11,792.61 L640.53,794.73 L640.96,796.84"/>
</g>
<g font-family="'Liberation Sans', Arial, sans-serif" font-size="20.5" fill="#111"><text x="60.8" y="873.3" text-anchor="end" textLength="10.4" lengthAdjust="spacingAndGlyphs">2</text><text x="60.8" y="785.1" text-anchor="end" textLength="10.4" lengthAdjust="spacingAndGlyphs">4</text><text x="60.8" y="700.3" text-anchor="end" textLength="10.4" lengthAdjust="spacingAndGlyphs">6</text><text x="60.8" y="617.3" text-anchor="end" textLength="10.4" lengthAdjust="spacingAndGlyphs">8</text><text x="60.8" y="537.3" text-anchor="end" textLength="20.6" lengthAdjust="spacingAndGlyphs">10</text><text x="60.8" y="459.6" text-anchor="end" textLength="20.6" lengthAdjust="spacingAndGlyphs">12</text><text x="60.8" y="384.4" text-anchor="end" textLength="20.6" lengthAdjust="spacingAndGlyphs">14</text><text x="60.8" y="312.0" text-anchor="end" textLength="20.6" lengthAdjust="spacingAndGlyphs">16</text><text x="60.8" y="241.4" text-anchor="end" textLength="20.6" lengthAdjust="spacingAndGlyphs">18</text><text x="60.8" y="173.9" text-anchor="end" textLength="20.6" lengthAdjust="spacingAndGlyphs">20</text><text x="60.8" y="108.8" text-anchor="end" textLength="20.6" lengthAdjust="spacingAndGlyphs">22</text><text x="60.8" y="46.1" text-anchor="end" textLength="20.6" lengthAdjust="spacingAndGlyphs">24</text></g>
<g font-family="'Liberation Sans', Arial, sans-serif" font-size="19.5" fill="#111"><text x="79.05" y="990.3" text-anchor="middle">0</text><text x="245.30" y="990.3" text-anchor="middle">5</text><text x="358.55" y="990.3" text-anchor="middle">10</text><text x="451.55" y="990.3" text-anchor="middle">15</text><text x="527.60" y="990.3" text-anchor="middle">20</text><text x="591.60" y="990.3" text-anchor="middle">25</text><text x="647.00" y="990.3" text-anchor="middle">30</text><text x="726.85" y="990.3" text-anchor="middle">40</text><text x="786.80" y="990.3" text-anchor="middle">50</text><text x="829.70" y="990.3" text-anchor="middle">60</text></g>
<g font-family="'Liberation Sans', Arial, sans-serif" font-size="20" fill="#111"><text x="594.7" y="225.3" textLength="47.4" lengthAdjust="spacingAndGlyphs">90/48</text><text x="552.8" y="290.0" textLength="47.9" lengthAdjust="spacingAndGlyphs">90/40</text><text x="522.8" y="363.1" textLength="47.0" lengthAdjust="spacingAndGlyphs">90/30</text><text x="475.8" y="482.8" textLength="46.6" lengthAdjust="spacingAndGlyphs">90/25</text></g>
<text x="72" y="1033.4" font-family="'Liberation Sans', Arial, sans-serif" font-size="19.3" fill="#111">Q (m<tspan font-size="10.5" dy="-6.5">3</tspan><tspan dy="6.5">/h )</tspan></text>
<text transform="translate(30.9,959.0) rotate(-90)" font-family="'Liberation Sans', Arial, sans-serif" font-size="19.5" fill="#111">H (m)</text>
<text x="834.4" y="1084.1" text-anchor="end" font-family="'Liberation Sans', Arial, sans-serif" font-size="15.3" fill="#1a1a1a">KL90.80.001-P</text>
</svg>
</body></html>
